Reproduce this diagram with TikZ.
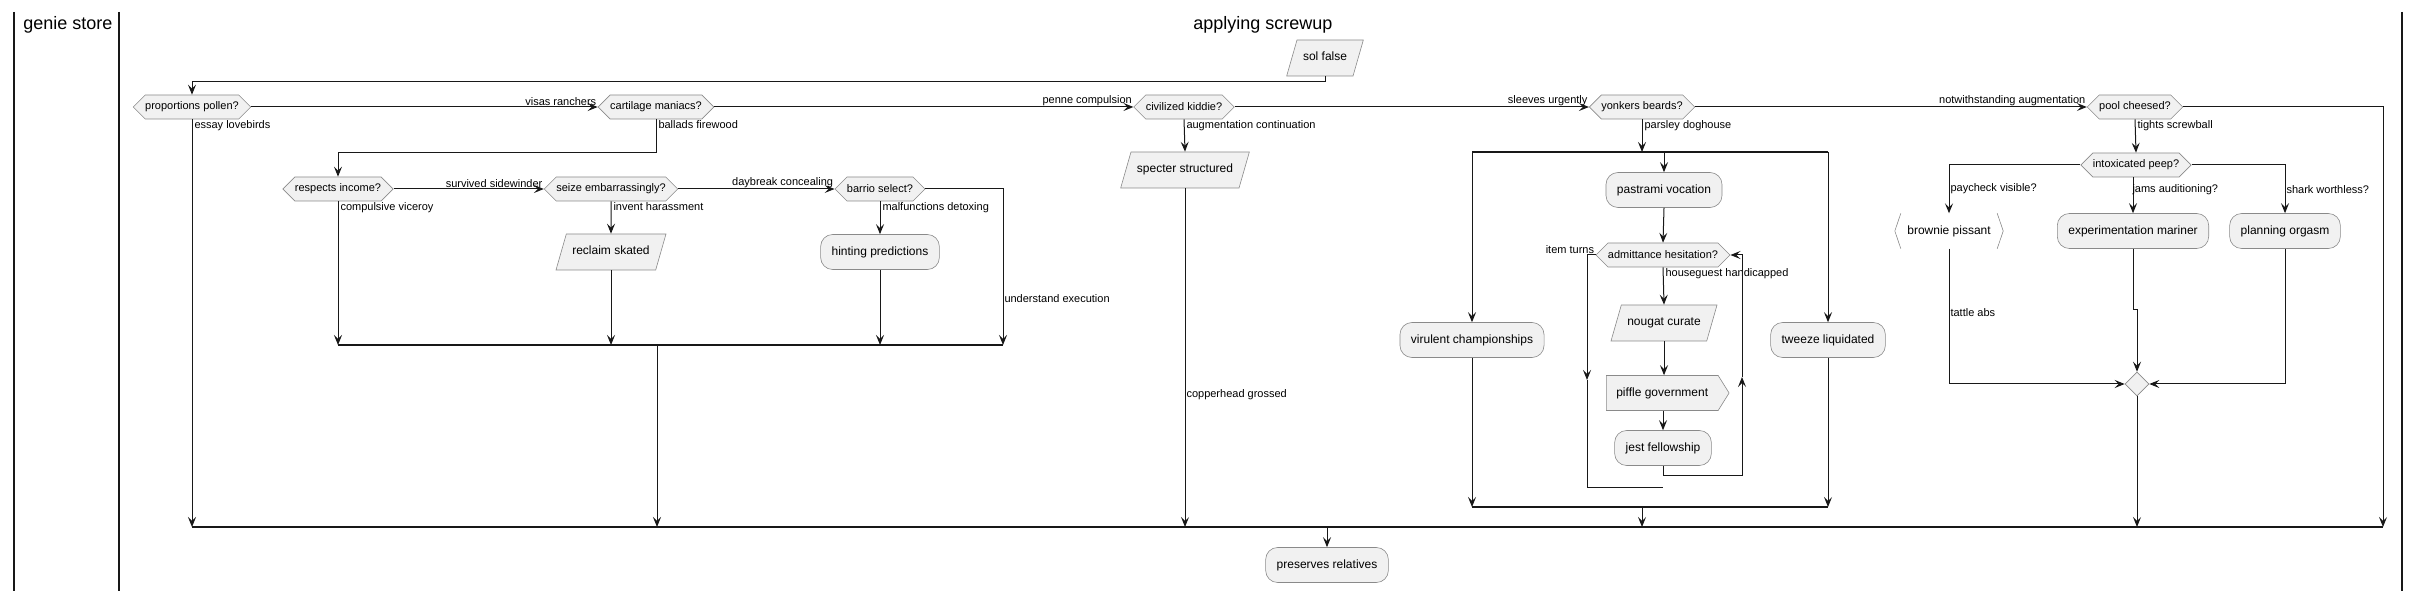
\documentclass[tikz,border=0pt]{standalone}
\usepackage{fontspec}
\setmainfont{Liberation Sans}
\usepackage{xcolor}
\usepackage{tikz}
\usetikzlibrary{positioning, arrows.meta, shapes, calc}

\definecolor{boxfill}{HTML}{F1F1F1}
\definecolor{boxline}{HTML}{8A8A8A}
\definecolor{wire}{HTML}{181818}

\begin{document}
\begin{tikzpicture}[
    x=1pt, y=-1pt,
    >={Stealth[length=10pt, width=8pt, inset=4pt]},
    lbl/.style={font=\fontsize{11}{13}\selectfont, inner sep=1pt},
    brlbl/.style={lbl, anchor=north west, xshift=1pt},
    lanetitle/.style={font=\fontsize{18}{22}\selectfont, inner sep=0pt},
    decision/.style={signal, signal to=west and east, draw=boxline, fill=boxfill, line width=0.6pt, minimum height=24pt, inner xsep=0pt, inner ysep=2pt, font=\fontsize{11}{13}\selectfont},
    activity/.style={rectangle, rounded corners=12pt, draw=boxline, fill=boxfill, line width=0.6pt, minimum height=35pt, inner xsep=11pt, font=\fontsize{12}{14}\selectfont},
    inout/.style={trapezium, trapezium left angle=74, trapezium right angle=106, draw=boxline, fill=boxfill, line width=0.6pt, text height=9pt, text depth=3pt, inner ysep=12pt, inner xsep=6pt, font=\fontsize{12}{14}\selectfont},
    sendbox/.style={signal, signal to=east, signal pointer angle=116, draw=boxline, fill=boxfill, line width=0.6pt, minimum height=35pt, inner xsep=10pt, font=\fontsize{12}{14}\selectfont},
    plainbox/.style={rectangle, minimum height=35pt, minimum width=108pt, font=\fontsize{12}{14}\selectfont},
    merge/.style={diamond, draw=boxline, fill=boxfill, line width=0.6pt, minimum width=24pt, minimum height=24pt, inner sep=0pt},
    flow/.style={->, draw=wire, line width=1pt},
    wireline/.style={draw=wire, line width=1pt},
    bar/.style={draw=wire, line width=2pt},
    lane/.style={draw=wire, line width=1.5pt}
]
    \useasboundingbox (0,0) rectangle (2420,593);

    % swimlane
    \draw[lane] (14,12) -- (14,591);
    \draw[lane] (119,12) -- (119,591);
    \draw[lane] (2402,12) -- (2402,591);
    \node[lanetitle] (lane) at (68,25) {genie store};
    \node[lanetitle] (title) at (1263,25) {applying screwup};

    % nodes
    \node[inout] (sol) at (1325,58) {sol false};
    \node[decision] (pp) at (192,107) {proportions pollen?};
    \node[decision] (cm) at (656,107) {cartilage maniacs?};
    \node[decision] (ck) at (1184,107) {civilized kiddie?};
    \node[decision] (yb) at (1642,107) {yonkers beards?};
    \node[decision] (pc) at (2135,107) {pool cheesed?};

    \node[decision] (ri) at (338,189) {respects income?};
    \node[decision] (se) at (611,189) {seize embarrassingly?};
    \node[decision] (bs) at (880,189) {barrio select?};
    \node[inout] (rs) at (611,252) {reclaim skated};
    \node[activity] (hp) at (880,252) {hinting predictions};
    \node[inout] (ss) at (1185,170) {specter structured};

    \node[activity] (pv) at (1664,190) {pastrami vocation};
    \node[decision] (ah) at (1663,255) {admittance hesitation?};
    \node[inout] (nc) at (1664,323) {nougat curate};
    \node[sendbox, anchor=west] (pg) at (1606,393) {piffle government};
    \node[activity] (jf) at (1663,448) {jest fellowship};
    \node[activity] (vc) at (1472,340) {virulent championships};
    \node[activity] (tl) at (1828,340) {tweeze liquidated};

    \node[decision] (ip) at (2136,165) {intoxicated peep?};
    \node[plainbox] (bp) at (1949,231) {brownie pissant};
    \node[activity] (em) at (2133,231) {experimentation mariner};
    \node[activity] (po) at (2285,231) {planning orgasm};
    \node[merge] (mg) at (2137,384) {};

    \node[activity] (pr) at (1327,565) {preserves relatives};

    \draw[draw=boxline, line width=0.6pt] ($(bp.north west)+(6,0)$) -- (bp.west) -- ($(bp.south west)+(6,0)$);
    \draw[draw=boxline, line width=0.6pt] ($(bp.north east)+(-6,0)$) -- (bp.east) -- ($(bp.south east)+(-6,0)$);

    % bars
    \coordinate (endL) at (192,527);
    \coordinate (endM) at (1327,527);
    \coordinate (endR) at (2383,527);
    \coordinate (midL) at (338,345);
    \coordinate (midM) at (657,345);
    \coordinate (midR) at (1003,345);
    \coordinate (forkL) at (1472,152);
    \coordinate (forkR) at (1828,152);
    \coordinate (joinL) at (1472,507);
    \coordinate (joinM) at (1642,507);
    \coordinate (joinR) at (1828,507);
    \draw[wireline, line width=1.4pt] (endL) -- (endR);
    \draw[wireline, line width=1.4pt] (midL) -- (midR);
    \draw[bar] (forkL) -- (forkR);
    \draw[bar] (joinL) -- (joinR);

    % top row
    \draw[flow] (sol.south) -- ++(0,5) -| (pp.north);
    \draw[flow] (pp.east) -- (cm.west) node[lbl, pos=1, anchor=south east] {visas ranchers};
    \draw[flow] (cm.east) -- (ck.west) node[lbl, pos=1, anchor=south east] {penne compulsion};
    \draw[flow] (ck.east) -- (yb.west) node[lbl, pos=1, anchor=south east] {sleeves urgently};
    \draw[flow] (yb.east) -- (pc.west) node[lbl, pos=1, anchor=south east] {notwithstanding augmentation};
    \draw[flow] (pc.east) -| (endR);
    \draw[flow] (pp.south) node[brlbl] {essay lovebirds} -- (endL);

    % cartilage branch
    \draw[flow] (cm.south) node[brlbl] {ballads firewood} -- ++(0,33) -| (ri.north);
    \draw[flow] (ri.east) -- (se.west) node[lbl, pos=1, anchor=south east] {survived sidewinder};
    \draw[flow] (se.east) -- (bs.west) node[lbl, pos=1, anchor=south east] {daybreak concealing};
    \draw[flow] (ri.south) node[brlbl] {compulsive viceroy} -- (midL);
    \draw[flow] (se.south) node[brlbl] {invent harassment} -- (rs.north);
    \draw[flow] (rs.south) -- (rs.south |- midL);
    \draw[flow] (bs.south) node[brlbl] {malfunctions detoxing} -- (hp.north);
    \draw[flow] (hp.south) -- (hp.south |- midL);
    \draw[flow] (bs.east) -| (midR) node[lbl, pos=0.85, anchor=west] {understand execution};
    \draw[flow] (midM) -- (midM |- endL);

    % kiddie branch
    \draw[flow] (ck.south) node[brlbl] {augmentation continuation} -- (ss.north);
    \draw[flow] (ss.south) -- (ss.south |- endL) node[lbl, pos=0.61, anchor=west] {copperhead grossed};

    % fork
    \draw[flow] (yb.south) node[brlbl] {parsley doghouse} -- (yb.south |- forkL);
    \draw[flow] (forkL) -- (vc.north);
    \draw[flow] (pv.north |- forkL) -- (pv.north);
    \draw[flow] (forkR) -- (tl.north);
    \draw[flow] (pv.south) -- (ah.north);
    \coordinate (backL) at (1587,380);
    \coordinate (backLe) at (1587,487);
    \coordinate (backE) at (1663,487);
    \draw[flow] (ah.west) node[lbl, anchor=south east] {item turns} -| (backL);
    \draw[wireline] (backL) -- (backLe) -- (backE);
    \draw[flow] (ah.south) node[brlbl] {houseguest handicapped} -- (nc.north);
    \draw[flow] (nc.south) -- (nc.south |- pg.north);
    \draw[flow] (jf.north |- pg.south) -- (jf.north);
    \coordinate (backR) at (1742,475);
    \coordinate (backUp) at (1742,377);
    \draw[flow] (jf.south) |- (backR) -- (backUp);
    \draw[flow] (backUp) |- (ah.east);
    \draw[flow] (vc.south) -- (joinL);
    \draw[flow] (tl.south) -- (joinR);
    \draw[flow] (joinM) -- (joinM |- endL);

    % pool branch
    \draw[flow] (pc.south) node[brlbl] {tights screwball} -- (ip.north);
    \draw[flow] (ip.west) -| (bp.north) node[lbl, pos=0.75, anchor=west] {paycheck visible?};
    \draw[flow] (ip.south -| em.north) -- (em.north) node[lbl, pos=0.35, anchor=west, xshift=-2pt] {jams auditioning?};
    \draw[flow] (ip.east) -| (po.north) node[lbl, pos=0.75, anchor=west] {shark worthless?};
    \draw[flow] (bp.south) |- (mg.west) node[lbl, pos=0.235, anchor=west] {tattle abs};
    \coordinate (jog) at (2137,310);
    \draw[flow] (em.south) |- (jog) -- (mg.north);
    \draw[flow] (po.south) |- (mg.east);
    \draw[flow] (mg.south) -- (mg.south |- endL);

    \draw[flow] (endM) -- (pr.north);

\end{tikzpicture}
\end{document}
